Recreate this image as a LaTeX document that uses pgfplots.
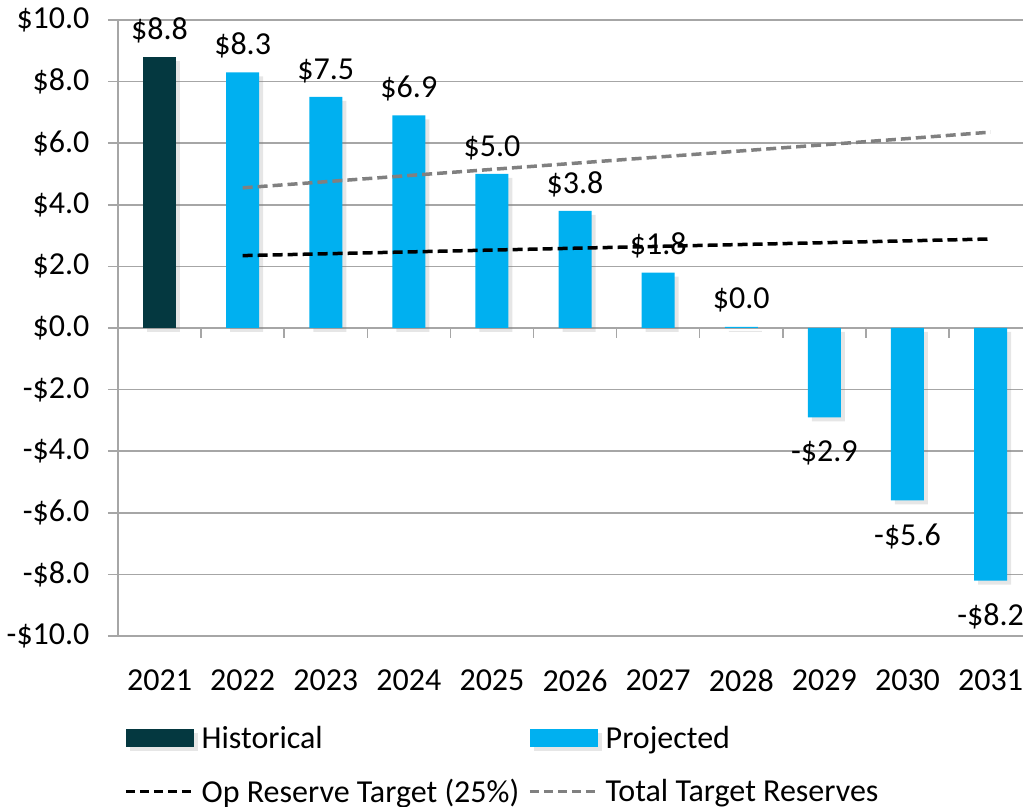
\documentclass[border=0pt]{standalone}
\usepackage{fontspec}
\setmainfont{Carlito}
\usepackage{pgfplots}
\usepackage{pgfplotstable}
\pgfplotsset{compat=1.18}
\usetikzlibrary{shadows}
\definecolor{hist}{RGB}{4,56,64}
\definecolor{proj}{RGB}{0,176,240}
\definecolor{gridgray}{RGB}{166,166,166}
\definecolor{tgray}{RGB}{128,128,128}
\newcommand{\bigfont}{\fontsize{32}{38}\selectfont}
\pgfplotstableread{
x y label
0 8.8 \$8.8
}\histdata
\pgfplotstableread{
x y label
1 8.3 \$8.3
2 7.5 \$7.5
3 6.9 \$6.9
4 5.0 \$5.0
5 3.8 \$3.8
6 1.8 \$1.8
7 0.04 \$0.0
}\projposdata
\pgfplotstableread{
x y label
8 -2.9 -\$2.9
9 -5.6 -\$5.6
10 -8.2 -\$8.2
}\projnegdata
\pgfplotsset{
  mybar/.style={ybar, bar width=33pt, bar shift=0pt, fill=#1, draw=none,
    drop shadow={shadow xshift=4pt, shadow yshift=-4pt, opacity=0.2},
    nodes near coords, point meta=explicit symbolic,
    every node near coord/.append style={font=\bigfont, text=black, inner ysep=14pt}},
}
\begin{document}
\begin{tikzpicture}
\begin{axis}[
  scale only axis, width=905pt, height=616pt,
  xmin=-0.5, xmax=10.39, ymin=-10, ymax=10,
  axis lines*=left,
  axis line style={draw=gridgray, line width=1.5pt},
  ytick={-10,-8,...,10},
  yticklabels={-\$10.0,-\$8.0,-\$6.0,-\$4.0,-\$2.0,\$0.0,\$2.0,\$4.0,\$6.0,\$8.0,\$10.0},
  xtick={0,...,10},
  xticklabels={2021,2022,2023,2024,2025,2026,2027,2028,2029,2030,2031},
  xtick style={draw=none},
  ytick style={draw=gridgray, line width=1.5pt},
  tick align=outside, major tick length=10pt,
  ymajorgrids, grid style={draw=gridgray, line width=1.5pt},
  tick label style={font=\bigfont, text=black},
  yticklabel style={xshift=-15pt},
  xticklabel style={yshift=-20pt},
  legend columns=2,
  legend style={draw=none, fill=none, font=\bigfont, at={(3/905,-0.14)}, anchor=north west,
    /tikz/every odd column/.append style={column sep=4pt},
    /tikz/every even column/.append style={column sep=7pt}, row sep=25pt},
  legend cell align=left,
  clip=false,
]
\addplot[mybar=hist,
  legend image code/.code={\fill[hist] (0pt,-9pt) rectangle (68pt,9pt);}]
  table[x=x, y=y, meta=label] {\histdata};
\addlegendentry{Historical}
\addplot[mybar=proj,
  legend image code/.code={\fill[proj] (0pt,-9pt) rectangle (68pt,9pt);}]
  table[x=x, y=y, meta=label] {\projposdata};
\addlegendentry{Projected}
\addplot[mybar=proj, forget plot,
  every node near coord/.append style={anchor=north, yshift=-9pt}]
  table[x=x, y=y, meta=label] {\projnegdata};
\addplot[black, line width=3.5pt, dash pattern=on 10pt off 5pt,
  legend image code/.code={\draw[black, line width=3.5pt, dash pattern=on 9pt off 5pt] (0pt,0pt) -- (68pt,0pt);}]
  coordinates {(1,2.35) (2,2.41) (3,2.47) (4,2.53) (5,2.59) (6,2.65) (7,2.71) (8,2.77) (9,2.83) (10,2.89)};
\addlegendentry{Op Reserve Target (25\%)}
\addplot[tgray, line width=3.5pt, dash pattern=on 10pt off 5pt,
  legend image code/.code={\draw[tgray, line width=3.5pt, dash pattern=on 9pt off 5pt] (0pt,0pt) -- (68pt,0pt);}]
  coordinates {(1,4.55) (2,4.75) (3,4.95) (4,5.15) (5,5.35) (6,5.55) (7,5.75) (8,5.95) (9,6.15) (10,6.36)};
\addlegendentry{Total Target Reserves}
\pgfplotsinvokeforeach{0.5,1.5,2.5,3.5,4.5,5.5,6.5,7.5,8.5,9.5}{
  \draw[gridgray, line width=1.5pt] (axis cs:#1,0) -- ([yshift=-10pt]axis cs:#1,0);
}
\coordinate (bl) at (rel axis cs:0,0);
\coordinate (tr) at (rel axis cs:1,1);
\end{axis}
\pgfresetboundingbox
\path[use as bounding box] ([xshift=-118pt,yshift=-171pt]bl) rectangle ([yshift=20pt]tr);
\end{tikzpicture}
\end{document}
